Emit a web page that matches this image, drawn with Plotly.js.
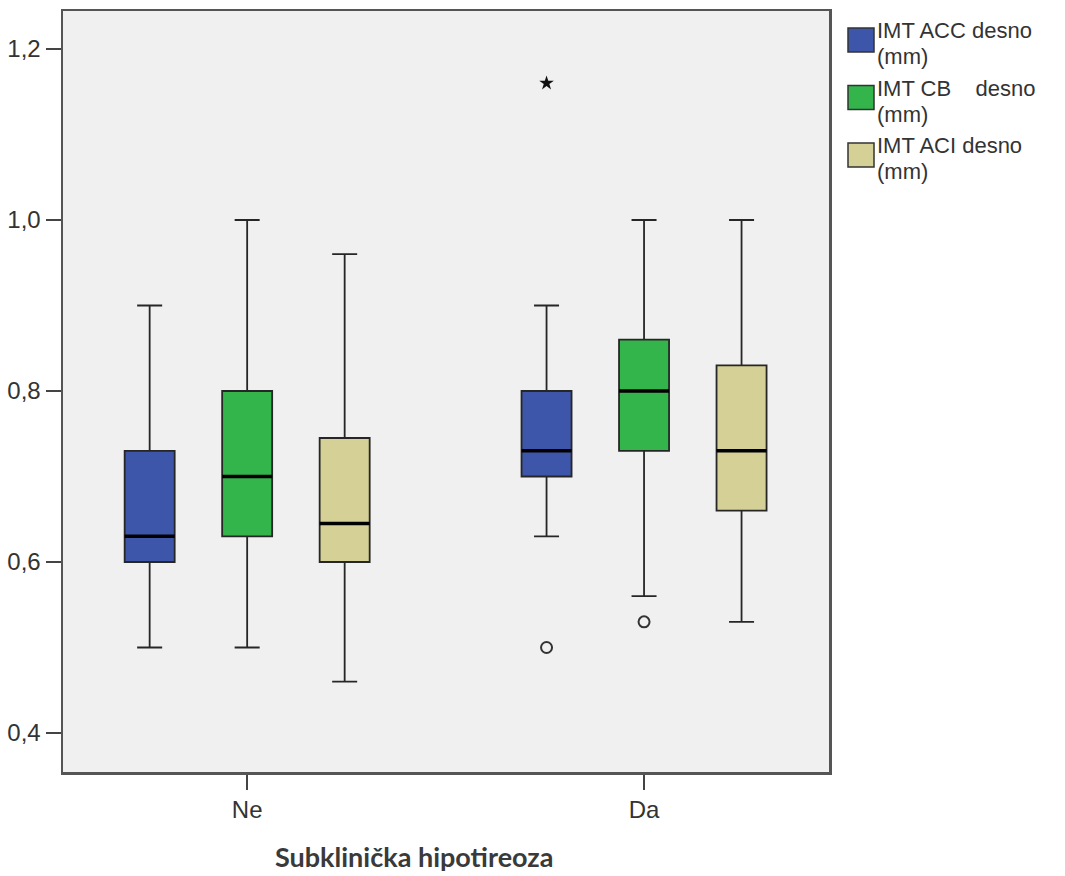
<!DOCTYPE html>
<html>
<head>
<meta charset="utf-8">
<script src="https://cdn.plot.ly/plotly-3.0.1.min.js"></script>
<style>html,body{margin:0;padding:0;background:#fff;}#chart{width:1065px;height:876px;}</style>
</head>
<body>
<div id="chart"></div>
<script>
// ---- data ----
const categories = ['Ne', 'Da'];
const seriesNames = ['IMT ACC desno (mm)', 'IMT CB\u00a0\u00a0\u00a0\u00a0desno (mm)', 'IMT ACI desno (mm)'];
const seriesColors = ['#3d56a9', '#33b54b', '#d5d096'];

const accLower  = [0.50, 0.63];
const accQ1     = [0.60, 0.70];
const accMedian = [0.63, 0.73];
const accQ3     = [0.73, 0.80];
const accUpper  = [0.90, 0.90];

const cbLower  = [0.50, 0.56];
const cbQ1     = [0.63, 0.73];
const cbMedian = [0.70, 0.80];
const cbQ3     = [0.80, 0.86];
const cbUpper  = [1.00, 1.00];

const aciLower  = [0.46, 0.53];
const aciQ1     = [0.60, 0.66];
const aciMedian = [0.645, 0.73];
const aciQ3     = [0.745, 0.83];
const aciUpper  = [0.96, 1.00];

// outliers: [series index, category, value]
const outlierSeries   = [0, 1];        // circles
const outlierCategory = ['Da', 'Da'];
const outlierValues   = [0.50, 0.53];
const extremeSeries   = [0];           // stars
const extremeCategory = ['Da'];
const extremeValues   = [1.16];

// ---- layout constants ----
const W = 1065, H = 876;
const M = {l: 63, r: 236, t: 11, b: 104};
const PW = W - M.l - M.r, PH = H - M.t - M.b;
const BOXGAP = 0.263, BOXGROUPGAP = 0.487;
const XR = [-0.464, 1.466];
const YR = [0.3544, 1.2444];
const FONT = 'Arial, Liberation Sans, sans-serif';
const TXT = '#333';

const stats = [
  [accLower, accQ1, accMedian, accQ3, accUpper],
  [cbLower, cbQ1, cbMedian, cbQ3, cbUpper],
  [aciLower, aciQ1, aciMedian, aciQ3, aciUpper]
];

const traces = [];
stats.forEach((s, k) => {
  traces.push({
    type: 'box', name: seriesNames[k], x: categories,
    lowerfence: s[0], q1: s[1], median: s[2], q3: s[3], upperfence: s[4],
    fillcolor: seriesColors[k],
    line: {color: '#262626', width: 1.8},
    whiskerwidth: 0.5, boxpoints: false, showlegend: false, hoverinfo: 'skip'
  });
});

// positions on the numeric overlay axis matching plotly's grouping
const N = stats.length;
const slot = (1 - BOXGAP) / N;
const halfW = slot * (1 - BOXGROUPGAP) / 2;
function boxPos(k, cat) { return categories.indexOf(cat) + slot * (k - (N - 1) / 2); }

// thick median lines
const mx = [], my = [];
stats.forEach((s, k) => {
  categories.forEach((c, i) => {
    const p = boxPos(k, c);
    mx.push(p - halfW, p + halfW, null);
    my.push(s[2][i], s[2][i], null);
  });
});
traces.push({type: 'scatter', mode: 'lines', x: mx, y: my, xaxis: 'x2',
  line: {color: '#000', width: 3.5}, showlegend: false, hoverinfo: 'skip'});

traces.push({type: 'scatter', mode: 'markers', xaxis: 'x2',
  x: outlierSeries.map((k, i) => boxPos(k, outlierCategory[i])), y: outlierValues,
  marker: {symbol: 'circle-open', size: 11, color: '#333', line: {width: 2, color: '#333'}},
  showlegend: false, hoverinfo: 'skip'});
traces.push({type: 'scatter', mode: 'markers', xaxis: 'x2',
  x: extremeSeries.map((k, i) => boxPos(k, extremeCategory[i])), y: extremeValues,
  marker: {symbol: 'star', size: 11, color: '#111', line: {width: 0}},
  showlegend: false, hoverinfo: 'skip'});

// custom legend (pixel -> paper)
const px = x => (x - M.l) / PW;
const py = y => 1 - (y - M.t) / PH;
const shapes = [], annotations = [];
const legendY = [40, 97.5, 155];
seriesNames.forEach((n, k) => {
  shapes.push({type: 'rect', xref: 'paper', yref: 'paper',
    x0: px(848), x1: px(874), y0: py(legendY[k] - 12), y1: py(legendY[k] + 12),
    fillcolor: seriesColors[k], line: {color: '#333', width: 1.5}});
  const cut = n.lastIndexOf(' (');
  const lines = [n.slice(0, cut), n.slice(cut + 1)];
  lines.forEach((t, j) => {
    annotations.push({xref: 'paper', yref: 'paper', x: px(876), y: py(legendY[k] - 9 + j * 25.5),
      xanchor: 'left', yanchor: 'middle', align: 'left', showarrow: false, borderpad: 0,
      text: t, font: {family: FONT, size: 22, color: TXT}});
  });
});
annotations.push({xref: 'paper', yref: 'paper', x: px(414), y: py(856),
  xanchor: 'center', yanchor: 'middle', showarrow: false, borderpad: 0,
  text: '<b>Subklinička hipotireoza</b>', font: {family: 'Lato, Open Sans, sans-serif', size: 27, color: '#3a3a3a'}});

const layout = {
  width: W, height: H, margin: M,
  paper_bgcolor: '#fff', plot_bgcolor: '#f0f0f0',
  separators: ',.',
  boxmode: 'group', boxgap: BOXGAP, boxgroupgap: BOXGROUPGAP,
  showlegend: false,
  font: {family: FONT, size: 23, color: TXT},
  xaxis: {type: 'category', range: XR, showgrid: false, zeroline: false,
    showline: true, mirror: true, linecolor: '#555', linewidth: 2.5,
    ticks: 'outside', ticklen: 15, tickwidth: 2, tickcolor: '#444',
    tickfont: {family: FONT, size: 24, color: TXT}},
  xaxis2: {overlaying: 'x', range: XR, visible: false, fixedrange: true},
  yaxis: {range: YR, showgrid: false, zeroline: false,
    showline: true, mirror: true, linecolor: '#555', linewidth: 2.5,
    ticks: 'outside', ticklen: 15, tickwidth: 2, tickcolor: '#444',
    tickvals: [0.4, 0.6, 0.8, 1.0, 1.2], tickformat: '.1f',
    tickfont: {family: FONT, size: 24, color: TXT}},
  shapes: shapes, annotations: annotations
};

Plotly.newPlot('chart', traces, layout, {staticPlot: true, displayModeBar: false});
</script>
</body>
</html>
